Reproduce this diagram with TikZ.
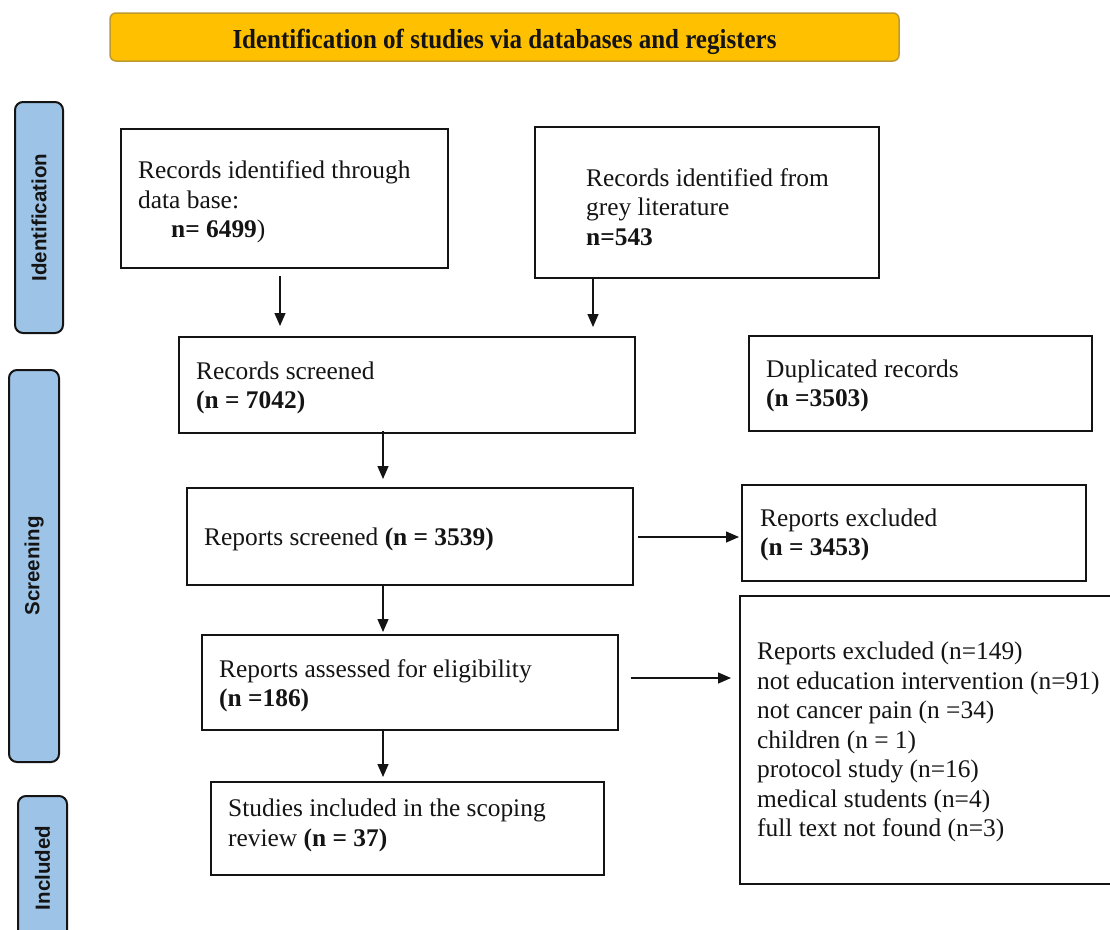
\documentclass[tikz,border=0pt]{standalone}
\usepackage{fontspec}
\setmainfont{Liberation Serif}
\newfontfamily\sidefont{Liberation Sans}
\usetikzlibrary{arrows.meta,calc}
\definecolor{bannerfill}{HTML}{FFC000}
\definecolor{bannerdraw}{HTML}{BF9A2E}
\definecolor{sidefill}{HTML}{9DC3E6}
\definecolor{ink}{HTML}{141414}
\tikzset{
  box/.style={draw=ink, line width=2pt, rectangle, inner sep=0pt},
  txt/.style={anchor=west, align=left, inner sep=0pt, text=ink, font=\fontsize{25.4}{29.5}\selectfont},
  side/.style={draw=ink, line width=2pt, rounded corners=8pt, fill=sidefill, inner sep=0pt, rotate=90, text=ink, font=\sidefont\bfseries\fontsize{20.5}{24}\selectfont},
  arr/.style={draw=ink, line width=1.3pt, -{Triangle[length=13pt,width=11pt]}},
}
\begin{document}
\begin{tikzpicture}[x=1pt,y=-1pt]
\useasboundingbox (0,0) rectangle (1110,929);
\clip (0,0) rectangle (1110,929);
\fill[white] (0,0) rectangle (1110,929);

% banner
\node[draw=bannerdraw, fill=bannerfill, line width=1.5pt, rounded corners=6pt,
      minimum width=789pt, minimum height=48pt, inner sep=0pt] (ban) at (504.5,37) {};
\node[inner sep=0pt, text=ink, font=\bfseries\fontsize{25}{30}\selectfont, yscale=1.1] (bant) at ($(ban.center)+(0,5)$)
      {Identification of studies via databases and registers};

% side bars
\node[side, minimum width=231pt, minimum height=48pt] (s1) at (39,217.5) {Identification};
\node[side, minimum width=392pt, minimum height=50pt] (s2) at (34,566) {Screening};
\node[side, minimum width=144pt, minimum height=49pt] (s3) at (42.5,868) {Included};

% boxes
\node[box, minimum width=327pt, minimum height=139pt] (b1) at (284.5,198.5) {};
\node[box, minimum width=344pt, minimum height=151pt] (b2) at (707,202.5) {};
\node[box, minimum width=456pt, minimum height=96pt] (b3) at (407,385) {};
\node[box, minimum width=343pt, minimum height=95pt] (b4) at (920.5,383.5) {};
\node[box, minimum width=446pt, minimum height=97pt] (b5) at (410,536.5) {};
\node[box, minimum width=344pt, minimum height=96pt] (b6) at (914,533) {};
\node[box, minimum width=416pt, minimum height=95pt] (b7) at (410,682.5) {};
\node[box, minimum width=380pt, minimum height=288pt] (b8) at (930,740) {};
\node[box, minimum width=393pt, minimum height=93pt] (b9) at (407.5,828.5) {};

% texts
\node[txt] (t1) at ($(b1.west)+(18,3.5)$) {Records identified through\\data base:\\\hspace*{33pt}\textbf{n= 6499})};
\node[txt] (t2) at ($(b2.west)+(52,4.5)$) {Records identified from\\grey literature\\\textbf{n=543}};
\node[txt] (t3) at ($(b3.west)+(18,3)$) {Records screened\\\textbf{(n = 7042)}};
\node[txt] (t4) at ($(b4.west)+(18,2.5)$) {Duplicated records\\\textbf{(n =3503)}};
\node[txt] (t5) at ($(b5.west)+(18,3)$) {Reports screened \textbf{(n = 3539)}};
\node[txt] (t6) at ($(b6.west)+(19,2)$) {Reports excluded\\\textbf{(n = 3453)}};
\node[txt] (t7) at ($(b7.west)+(18,3)$) {Reports assessed for eligibility\\\textbf{(n =186)}};
\node[txt] (t8) at ($(b8.west)+(18,2)$) {Reports excluded (n=149)\\not education intervention (n=91)\\not cancer pain (n =34)\\children (n = 1)\\protocol study (n=16)\\medical students (n=4)\\full text not found (n=3)};
\node[txt] (t9) at ($(b9.west)+(18,-3)$) {Studies included in the scoping\\review \textbf{(n = 37)}};

% arrow columns
\coordinate (c1) at (280,0);
\coordinate (c2) at (593,0);
\coordinate (c3) at (383,0);
\coordinate (r1) at (0,537);
\coordinate (r2) at (0,678);

\draw[arr] ($(b1.south -| c1)+(0,7)$) -- ($(b3.north -| c1)+(0,-10)$);
\draw[arr] ($(b2.south -| c2)+(0,0)$) -- ($(b3.north -| c2)+(0,-9)$);
\draw[arr] ($(b3.south -| c3)+(0,-3)$) -- ($(b5.north -| c3)+(0,-8)$);
\draw[arr] ($(b5.south -| c3)+(0,-1)$) -- ($(b7.north -| c3)+(0,-2)$);
\draw[arr] ($(b7.south -| c3)+(0,-1)$) -- ($(b9.north -| c3)+(0,-4)$);
\draw[arr] ($(b5.east |- r1)+(4,0)$) -- ($(b6.west |- r1)+(-2,0)$);
\draw[arr] ($(b7.east |- r2)+(12,0)$) -- ($(b8.west |- r2)+(-8,0)$);
\end{tikzpicture}
\end{document}
